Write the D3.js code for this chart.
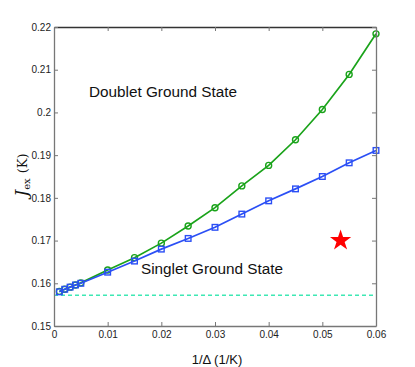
<!DOCTYPE html>
<html>
<head>
<meta charset="utf-8">
<script src="https://cdn.jsdelivr.net/npm/d3@7"></script>
<style>
  body { margin: 0; background: #fff; }
  text { font-family: "Liberation Sans", Arial, sans-serif; }
</style>
</head>
<body>
<svg width="415" height="367"></svg>
<script>
// x values (1/Delta)
var xVals = [0.001, 0.002, 0.003, 0.004, 0.005, 0.01, 0.015, 0.02, 0.025, 0.03, 0.035, 0.04, 0.045, 0.05, 0.055, 0.06];
// green circles
var greenVals = [0.1581, 0.1586, 0.1591, 0.1596, 0.1601, 0.1631, 0.1660, 0.1694, 0.1734, 0.1777, 0.1828, 0.1876, 0.1936, 0.2007, 0.2089, 0.2184];
// blue squares
var blueVals = [0.1580, 0.1586, 0.1591, 0.1596, 0.1600, 0.1626, 0.1652, 0.1680, 0.1705, 0.1731, 0.1762, 0.1793, 0.1821, 0.1850, 0.1882, 0.1911];
var starPoint = [0.0534, 0.1700];
var dashedLevel = 0.1572;
var xTicks = [0, 0.01, 0.02, 0.03, 0.04, 0.05, 0.06];
var yTicks = [0.15, 0.16, 0.17, 0.18, 0.19, 0.2, 0.21, 0.22];

var svg = d3.select("svg");
var plotL = 54, plotR = 376, plotT = 27, plotB = 326;

var x = d3.scaleLinear().domain([0, 0.06]).range([plotL, plotR]);
var y = d3.scaleLinear().domain([0.15, 0.22]).range([plotB, plotT]);

// dashed reference line
svg.append("line")
  .attr("x1", x(0)).attr("x2", x(0.06))
  .attr("y1", y(dashedLevel)).attr("y2", y(dashedLevel))
  .attr("stroke", "#3ee8b4").attr("stroke-width", 1.4)
  .attr("stroke-dasharray", "4,3");

var line = d3.line()
  .x(function(d) { return x(d[0]); })
  .y(function(d) { return y(d[1]); });

var green = xVals.map(function(v, i) { return [v, greenVals[i]]; });
var blue = xVals.map(function(v, i) { return [v, blueVals[i]]; });

svg.append("path").datum(green)
  .attr("d", line).attr("fill", "none")
  .attr("stroke", "#1aa31a").attr("stroke-width", 1.7);
svg.selectAll("circle.g").data(green).enter().append("circle")
  .attr("class", "g")
  .attr("cx", function(d) { return x(d[0]); })
  .attr("cy", function(d) { return y(d[1]); })
  .attr("r", 3).attr("fill", "none")
  .attr("stroke", "#1aa31a").attr("stroke-width", 1.4);

svg.append("path").datum(blue)
  .attr("d", line).attr("fill", "none")
  .attr("stroke", "#2b4ff5").attr("stroke-width", 1.7);
svg.selectAll("rect.b").data(blue).enter().append("rect")
  .attr("class", "b")
  .attr("x", function(d) { return x(d[0]) - 2.8; })
  .attr("y", function(d) { return y(d[1]) - 2.8; })
  .attr("width", 5.6).attr("height", 5.6).attr("fill", "none")
  .attr("stroke", "#2b4ff5").attr("stroke-width", 1.4);

// star
svg.append("path")
  .attr("d", d3.symbol().type(d3.symbolStar).size(140))
  .attr("transform", "translate(" + x(starPoint[0]) + "," + y(starPoint[1]) + ")")
  .attr("fill", "#ff0000");

// axes
var axisColor = "#777";
var gx = svg.append("g").attr("transform", "translate(0," + plotB + ")")
  .call(d3.axisBottom(x).tickValues(xTicks).tickSizeInner(-4).tickSizeOuter(0)
    .tickFormat(function(d) { return d === 0 ? "0" : d3.format("~g")(d); }));
var gxt = svg.append("g").attr("transform", "translate(0," + plotT + ")")
  .call(d3.axisTop(x).tickValues(xTicks).tickSizeInner(-4).tickSizeOuter(0).tickFormat(""));
var gy = svg.append("g").attr("transform", "translate(" + plotL + ",0)")
  .call(d3.axisLeft(y).tickValues(yTicks).tickSizeInner(-4).tickSizeOuter(0)
    .tickFormat(d3.format("~g")));
var gyr = svg.append("g").attr("transform", "translate(" + plotR + ",0)")
  .call(d3.axisRight(y).tickValues(yTicks).tickSizeInner(-4).tickSizeOuter(0).tickFormat(""));

[gx, gxt, gy, gyr].forEach(function(g) {
  g.select(".domain").attr("stroke", axisColor).attr("stroke-width", 1.3);
  g.selectAll(".tick line").attr("stroke", axisColor);
  g.selectAll(".tick text").attr("fill", "#222").style("font-size", "10px")
    .style("font-family", "'Liberation Sans', Arial, sans-serif");
});
gxt.select(".domain").attr("stroke", "#333");
gx.selectAll(".tick text").attr("y", 5).attr("dy", "0.71em");
gy.selectAll(".tick text").attr("x", -3);

// labels
svg.append("text").attr("x", 89).attr("y", 97)
  .style("font-size", "15.3px").attr("fill", "#111").text("Doublet Ground State");
svg.append("text").attr("x", 141).attr("y", 274)
  .style("font-size", "15.3px").attr("fill", "#111").text("Singlet Ground State");

svg.append("text").attr("x", 217).attr("y", 364).attr("text-anchor", "middle")
  .style("font-size", "13px").attr("fill", "#111").text("1/\u0394 (1/K)");

var yl = svg.append("text")
  .attr("transform", "translate(27,175) rotate(-90)")
  .attr("text-anchor", "middle").attr("fill", "#111");
yl.append("tspan").style("font-family", "'DejaVu Serif', serif").style("font-style", "italic")
  .style("font-size", "17px").text("J");
yl.append("tspan").style("font-family", "'DejaVu Serif', serif")
  .style("font-size", "10px").attr("dy", 3).text("ex");
yl.append("tspan").style("font-family", "'DejaVu Serif', serif")
  .style("font-size", "13px").attr("dy", -3).attr("dx", 5).text("(K)");
</script>
</body>
</html>
